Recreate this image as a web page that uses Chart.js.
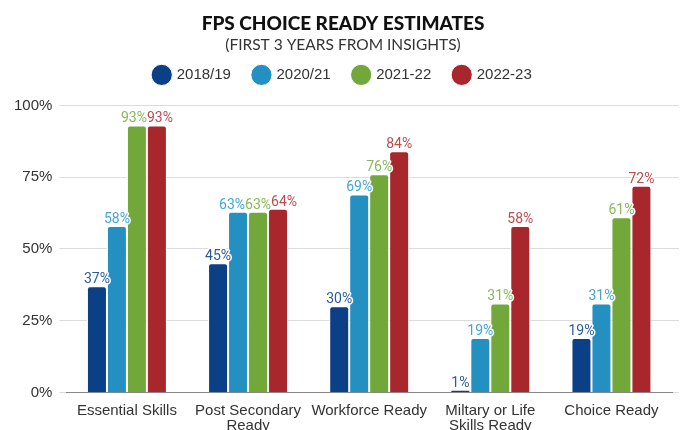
<!DOCTYPE html>
<html>
<head>
<meta charset="utf-8">
<script src="https://cdn.jsdelivr.net/npm/chart.js@4.4.0/dist/chart.umd.min.js"></script>
<style>
html,body{margin:0;padding:0;background:#fff;overflow:hidden;}
#wrap{width:684px;height:430px;overflow:hidden;}
</style>
</head>
<body>
<div id="wrap"><canvas id="c" width="684" height="436"></canvas></div>
<script>
const categories = [["Essential Skills"], ["Post Secondary", "Ready"], ["Workforce Ready"], ["Miltary or Life", "Skills Ready"], ["Choice Ready"]];
const seriesNames = ["2018/19", "2020/21", "2021-22", "2022-23"];
const v2018 = [37, 45, 30, 1, 19];
const v2020 = [58, 63, 69, 19, 31];
const v2021 = [93, 63, 76, 31, 61];
const v2022 = [93, 64, 84, 58, 72];
const yTicks = [0, 25, 50, 75, 100];

const barColors = ["#0b3f86", "#2390c1", "#72a839", "#a8272d"];
const labelColors = ["#2a5b9e", "#44a6d4", "#86b85a", "#bf4a50"];

// Value labels above bars; labels of neighbouring bars at similar height are spread so they don't overlap
const labelPlugin = {
  id: 'valueLabels',
  afterDatasetsDraw(chart) {
    const ctx = chart.ctx;
    ctx.save();
    ctx.font = '14px Roboto, "Liberation Sans", sans-serif';
    ctx.textAlign = 'center';
    ctx.textBaseline = 'alphabetic';
    ctx.lineJoin = 'round';
    const nCat = chart.data.labels.length;
    const nDs = chart.data.datasets.length;
    for (let j = 0; j < nCat; j++) {
      const items = [];
      for (let i = 0; i < nDs; i++) {
        const bar = chart.getDatasetMeta(i).data[j];
        const txt = chart.data.datasets[i].data[j] + '%';
        const w = ctx.measureText(txt).width;
        items.push({i, txt, w, x: bar.x, y: bar.y - 3, ox: bar.x});
      }
      let changed = true, guard = 0;
      let clusters = items.map(it => [it]);
      while (changed && guard++ < 20) {
        changed = false;
        for (let k = 0; k < clusters.length - 1; k++) {
          const a = clusters[k], b = clusters[k + 1];
          const la = a[a.length - 1], fb = b[0];
          const overlapX = (la.x + la.w / 2) > (fb.x - fb.w / 2) + 0.5;
          const overlapY = Math.abs(la.y - fb.y) < 14;
          if (overlapX && overlapY) {
            const merged = a.concat(b);
            const mean = merged.reduce((s, it) => s + it.ox, 0) / merged.length;
            const total = merged.reduce((s, it) => s + it.w, 0);
            let cx = mean - total / 2;
            merged.forEach(it => { it.x = cx + it.w / 2; cx += it.w; });
            clusters.splice(k, 2, merged);
            changed = true;
            break;
          }
        }
      }
      items.forEach(it => {
        ctx.lineWidth = 3;
        ctx.strokeStyle = '#fff';
        ctx.strokeText(it.txt, it.x, it.y);
      });
      items.forEach(it => {
        ctx.fillStyle = labelColors[it.i];
        ctx.fillText(it.txt, it.x, it.y);
      });
    }
    ctx.restore();
  }
};

const spacerPlugin = {
  id: 'legendSpacer',
  beforeInit(chart) {
    Chart.layouts.addBox(chart, {
      position: 'top',
      weight: 500,
      fullSize: true,
      options: {},
      top: 0, left: 0, right: 0, bottom: 0, width: 0, height: 0,
      isHorizontal() { return true; },
      update(maxWidth) { this.width = maxWidth; this.height = 13; return this.height; },
      draw() {}
    });
  }
};

new Chart(document.getElementById('c'), {
  type: 'bar',
  data: {
    labels: categories,
    datasets: [v2018, v2020, v2021, v2022].map((d, i) => ({
      label: seriesNames[i],
      data: d,
      backgroundColor: barColors[i],
      borderColor: '#ffffff',
      borderWidth: 1,
      borderSkipped: 'bottom',
      borderRadius: {topLeft: 3, topRight: 3},
      categoryPercentage: 0.66,
      barPercentage: 1.0
    }))
  },
  options: {
    responsive: false,
    animation: false,
    devicePixelRatio: 1,
    layout: {padding: {left: 7, right: 5, top: 7, bottom: 0}},
    plugins: {
      title: {
        display: true,
        text: 'FPS CHOICE READY ESTIMATES',
        color: '#111',
        font: {family: 'Lato, "DejaVu Sans", sans-serif', size: 19, weight: '900'},
        padding: {top: 5, bottom: 1}
      },
      subtitle: {
        display: true,
        text: '(FIRST 3 YEARS FROM INSIGHTS)',
        color: '#333',
        font: {family: 'Lato, "DejaVu Sans", sans-serif', size: 15.5},
        padding: {top: 0, bottom: -10}
      },
      legend: {
        display: true,
        position: 'top',
        labels: {
          usePointStyle: true,
          pointStyle: 'circle',
          boxWidth: 15,
          boxHeight: 15,
          padding: 23,
          color: '#333',
          font: {family: '"Liberation Sans", Arial, sans-serif', size: 15}
        }
      },
      tooltip: {enabled: false}
    },
    scales: {
      x: {
        grid: {display: false},
        border: {color: '#888', width: 1},
        ticks: {
          color: '#333',
          font: {family: '"Liberation Sans", Arial, sans-serif', size: 15, lineHeight: 1.05},
          maxRotation: 0,
          autoSkip: false,
          padding: 2
        }
      },
      y: {
        min: 0,
        max: 100,
        afterBuildTicks(axis) { axis.ticks = yTicks.map(v => ({value: v})); },
        grid: {color: '#dcdcdc', drawTicks: true, tickLength: 7},
        border: {display: false},
        ticks: {
          color: '#333',
          padding: 7,
          font: {family: '"Liberation Sans", Arial, sans-serif', size: 15},
          callback: v => v + '%'
        }
      },
      yR: {
        position: 'right',
        min: 0,
        max: 100,
        afterBuildTicks(axis) { axis.ticks = yTicks.map(v => ({value: v})); },
        grid: {display: true, drawOnChartArea: false, color: '#dcdcdc', drawTicks: true, tickLength: 7},
        border: {display: false},
        ticks: {display: false}
      }
    }
  },
  plugins: [spacerPlugin, labelPlugin]
});
</script>
</body>
</html>
